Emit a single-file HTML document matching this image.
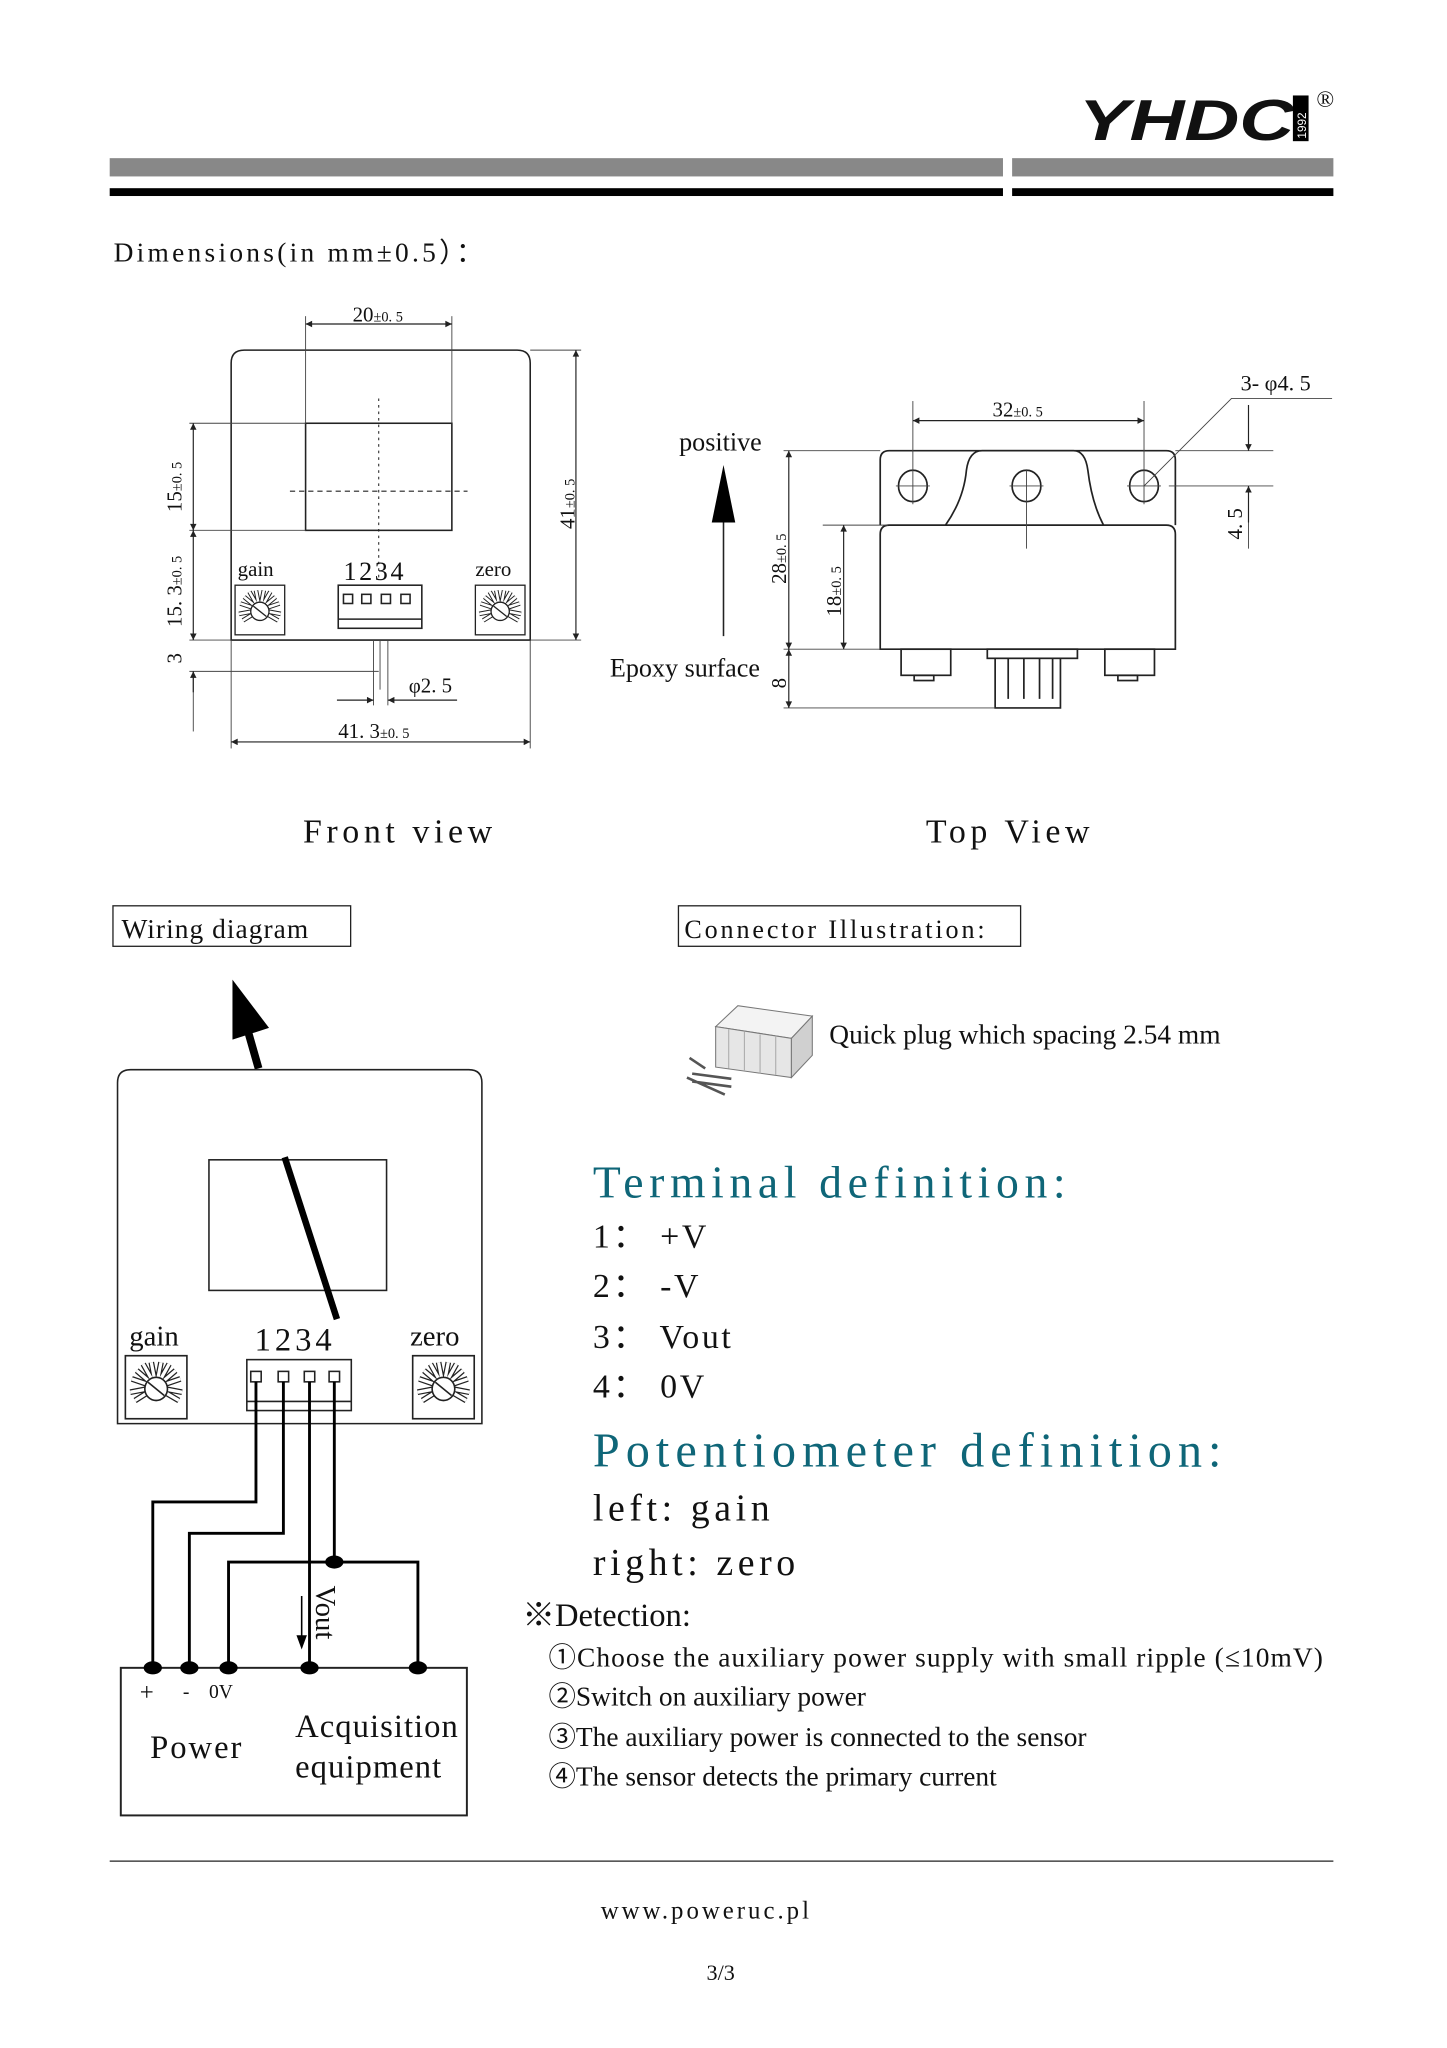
<!DOCTYPE html>
<html><head><meta charset="utf-8"><style>
html,body{margin:0;padding:0;background:#fff}
svg{display:block}
text{font-family:"Liberation Serif",serif;fill:#111}
</style></head><body>
<svg width="1447" height="2048" viewBox="0 0 1108 1568" xmlns="http://www.w3.org/2000/svg">
<defs>
<g id="pot">
<rect x="0" y="0" width="38" height="38" fill="#fff" stroke="#222" stroke-width="1"/>
<g stroke="#222" stroke-width="1" fill="#fff">
<path d="M19 19 L3 22 M19 19 L4 14 M19 19 L7 9 M19 19 L11 5 M19 19 L16 4 M19 19 L22 4 M19 19 L27 5 M19 19 L31 9 M19 19 L34 14 M19 19 L35 22 M19 19 L33 27 M19 19 L6 27" stroke-width="3.5" stroke="#222"/>
<path d="M19 19 L3 22 M19 19 L4 14 M19 19 L7 9 M19 19 L11 5 M19 19 L16 4 M19 19 L22 4 M19 19 L27 5 M19 19 L31 9 M19 19 L34 14 M19 19 L35 22 M19 19 L33 27 M19 19 L6 27" stroke-width="2" stroke="#fff"/>
<circle cx="19" cy="20" r="7"/>
<line x1="14" y1="16" x2="24" y2="24"/>
</g>
</g>
<marker id="ah" viewBox="0 0 10 10" refX="10" refY="5" markerWidth="9" markerHeight="5" orient="auto-start-reverse" markerUnits="userSpaceOnUse"><path d="M0 0 L10 5 L0 10 z" fill="#222"/></marker>
</defs>

<!-- header -->
<rect x="84" y="121" width="684" height="14" fill="#888"/>
<rect x="775" y="121" width="246" height="14" fill="#888"/>
<rect x="84" y="144" width="684" height="6" fill="#000"/>
<rect x="775" y="144" width="246" height="6" fill="#000"/>
<text x="826" y="107" font-weight="bold" font-style="italic" font-size="44" textLength="165" lengthAdjust="spacingAndGlyphs" style="font-family:'Liberation Sans',sans-serif">YHDC</text>
<rect x="990" y="73" width="12" height="35" fill="#000"/>
<text x="1000" y="106" font-size="9" style="fill:#fff;font-family:'Liberation Sans',sans-serif" transform="rotate(-90 1000 106)">1992</text>
<text x="1008" y="82" font-size="18">®</text>

<text x="87" y="200" font-size="21" letter-spacing="2.5">Dimensions(in mm±0.5）：</text>

<!-- FRONT VIEW -->
<g stroke="#222" fill="none" stroke-width="1.2">
<path d="M177 490 V278 Q177 268 187 268 H396 Q406 268 406 278 V490 Z"/>
<rect x="234" y="324" width="112" height="82"/>
<line x1="222" y1="376" x2="358" y2="376" stroke-dasharray="4 3" stroke-width="0.8"/>
<line x1="290" y1="305" x2="290" y2="445" stroke-dasharray="2 3" stroke-width="0.8"/>
<rect x="259" y="448" width="64" height="33"/>
<line x1="259" y1="474" x2="323" y2="474"/>
<rect x="263" y="455" width="7" height="7"/><rect x="277" y="455" width="7" height="7"/><rect x="292" y="455" width="7" height="7"/><rect x="307" y="455" width="7" height="7"/>
</g>
<g stroke="#444" stroke-width="0.7" fill="none">
<line x1="234" y1="242" x2="234" y2="324"/><line x1="346" y1="242" x2="346" y2="324"/>
<line x1="406" y1="268" x2="445" y2="268"/><line x1="406" y1="490" x2="445" y2="490"/>
<line x1="145" y1="324" x2="234" y2="324"/><line x1="145" y1="406" x2="234" y2="406"/>
<line x1="145" y1="490" x2="177" y2="490"/><line x1="145" y1="514" x2="290" y2="514"/>
<line x1="286" y1="490" x2="286" y2="540"/><line x1="297" y1="490" x2="297" y2="540"/>
<line x1="291" y1="490" x2="291" y2="528"/>
<line x1="177" y1="490" x2="177" y2="573"/><line x1="406" y1="490" x2="406" y2="573"/>
<line x1="148" y1="514" x2="148" y2="560"/>
</g>
<g stroke="#222" stroke-width="0.9">
<line x1="234" y1="248" x2="346" y2="248" marker-start="url(#ah)" marker-end="url(#ah)"/>
<line x1="441" y1="268" x2="441" y2="490" marker-start="url(#ah)" marker-end="url(#ah)"/>
<line x1="148" y1="324" x2="148" y2="406" marker-start="url(#ah)" marker-end="url(#ah)"/>
<line x1="148" y1="406" x2="148" y2="490" marker-start="url(#ah)" marker-end="url(#ah)"/>
<line x1="148" y1="530" x2="148" y2="514" marker-end="url(#ah)"/>
<line x1="258" y1="536" x2="286" y2="536" marker-end="url(#ah)"/>
<line x1="350" y1="536" x2="297" y2="536" marker-end="url(#ah)"/>
<line x1="177" y1="568" x2="406" y2="568" marker-start="url(#ah)" marker-end="url(#ah)"/>
</g>
<text x="270" y="246" font-size="16">20<tspan font-size="11">±0. 5</tspan></text>
<text x="259" y="565" font-size="16">41. 3<tspan font-size="11">±0. 5</tspan></text>
<text x="313" y="530" font-size="16">φ2. 5</text>
<text font-size="16" transform="translate(139 392) rotate(-90)">15<tspan font-size="11">±0. 5</tspan></text>
<text font-size="16" transform="translate(139 480) rotate(-90)">15. 3<tspan font-size="11">±0. 5</tspan></text>
<text font-size="16" transform="translate(139 508) rotate(-90)">3</text>
<text font-size="16" transform="translate(440 405) rotate(-90)">41<tspan font-size="11">±0. 5</tspan></text>
<text x="182" y="441" font-size="16">gain</text>
<text x="263" y="444" font-size="20" letter-spacing="2">1234</text>
<text x="364" y="441" font-size="16">zero</text>
<use href="#pot" x="180" y="448"/>
<use href="#pot" x="364" y="448"/>

<!-- TOP VIEW -->
<g stroke="#222" fill="none" stroke-width="1.3">
<path d="M674 402 V352 Q674 345 681 345 H893 Q900 345 900 352 V402"/>
<path d="M674 497 V409 Q674 402 681 402 H893 Q900 402 900 409 V497 Z"/>
<path d="M724 402 Q738 382 740 360 Q742 345 752 345 H822 Q831 345 833 360 Q836 385 845 402"/>
<ellipse cx="699" cy="372" rx="11" ry="12"/><ellipse cx="786" cy="372" rx="11" ry="12"/><ellipse cx="876" cy="372" rx="11" ry="12"/>
<rect x="690" y="497" width="38" height="20"/><rect x="700" y="517" width="15" height="4"/>
<rect x="846" y="497" width="38" height="20"/><rect x="856" y="517" width="15" height="4"/>
<rect x="756" y="497" width="69" height="7"/>
<path d="M762 504 V542 H812 V504 M772 504 V535 M784 504 V535 M796 504 V535 M806 504 V535"/>
</g>
<g stroke="#444" stroke-width="0.7" fill="none">
<line x1="699" y1="307" x2="699" y2="386"/><line x1="876" y1="307" x2="876" y2="386"/><line x1="786" y1="360" x2="786" y2="420"/>
<line x1="686" y1="372" x2="712" y2="372"/><line x1="773" y1="372" x2="799" y2="372"/><line x1="863" y1="372" x2="889" y2="372"/>
<line x1="600" y1="345" x2="674" y2="345"/><line x1="600" y1="497" x2="674" y2="497"/><line x1="600" y1="542" x2="762" y2="542"/>
<line x1="630" y1="402" x2="680" y2="402"/>
<line x1="900" y1="345" x2="975" y2="345"/><line x1="895" y1="372" x2="975" y2="372"/>
<line x1="956" y1="372" x2="956" y2="420"/>
<polyline points="876,372 943,305 1020,305"/>
</g>
<g stroke="#222" stroke-width="0.9">
<line x1="699" y1="322" x2="876" y2="322" marker-start="url(#ah)" marker-end="url(#ah)"/>
<line x1="604" y1="345" x2="604" y2="497" marker-start="url(#ah)" marker-end="url(#ah)"/>
<line x1="604" y1="497" x2="604" y2="542" marker-start="url(#ah)" marker-end="url(#ah)"/>
<line x1="646" y1="402" x2="646" y2="497" marker-start="url(#ah)" marker-end="url(#ah)"/>
<line x1="956" y1="310" x2="956" y2="345" marker-end="url(#ah)"/>
<line x1="956" y1="400" x2="956" y2="372" marker-end="url(#ah)"/>
<line x1="554" y1="487" x2="554" y2="395" stroke-width="1.2"/>
</g>
<polygon points="554,356 545,400 563,400" fill="#000"/>
<text x="760" y="319" font-size="16">32<tspan font-size="11">±0. 5</tspan></text>
<text x="950" y="299" font-size="17">3- φ4. 5</text>
<text font-size="16" transform="translate(951 413) rotate(-90)">4. 5</text>
<text font-size="16" transform="translate(602 447) rotate(-90)">28<tspan font-size="11">±0. 5</tspan></text>
<text font-size="16" transform="translate(644 472) rotate(-90)">18<tspan font-size="11">±0. 5</tspan></text>
<text font-size="16" transform="translate(602 527) rotate(-90)">8</text>
<text x="520" y="345" font-size="20">positive</text>
<text x="467" y="518" font-size="20">Epoxy surface</text>

<text x="232" y="645" font-size="26" letter-spacing="3.5">Front view</text>
<text x="709" y="645" font-size="26" letter-spacing="3.5">Top View</text>

<rect x="86.5" y="693.5" width="182" height="31" fill="none" stroke="#222"/>
<text x="93" y="718" font-size="21" letter-spacing="0.8">Wiring diagram</text>
<rect x="519.5" y="693.5" width="262" height="31" fill="none" stroke="#222"/>
<text x="524" y="718" font-size="20" letter-spacing="2.2">Connector Illustration:</text>

<!-- connector picture -->
<g stroke="#777" stroke-width="0.8">
<polygon points="548,786 565,770 622,778 606,795" fill="#f3f3f3"/>
<polygon points="548,786 606,795 606,825 548,817" fill="#e6e6e6"/>
<polygon points="606,795 622,778 622,808 606,825" fill="#d0d0d0"/>
<path d="M558 788 V818 M570 790 V820 M582 792 V822 M594 793 V823" fill="none" stroke="#aaa"/>
<path d="M530 822 L560 826 M530 828 L560 832 M528 810 L540 818 M526 825 L555 838" stroke="#555" stroke-width="2"/>
</g>
<text x="635" y="799" font-size="21" letter-spacing="0">Quick plug which spacing 2.54 mm</text>

<text x="454" y="917" font-size="35" letter-spacing="4.3" style="fill:#0f6678">Terminal definition:</text>
<text x="454" y="955" font-size="26" letter-spacing="2">1： +V</text>
<text x="454" y="993" font-size="26" letter-spacing="2">2： -V</text>
<text x="454" y="1032" font-size="26" letter-spacing="2">3： Vout</text>
<text x="454" y="1070" font-size="26" letter-spacing="2">4： 0V</text>
<text x="454" y="1123" font-size="37" letter-spacing="4.6" style="fill:#0f6678">Potentiometer definition:</text>
<text x="454" y="1164" font-size="29" letter-spacing="3.5">left:  gain</text>
<text x="454" y="1206" font-size="29" letter-spacing="3.5">right:  zero</text>
<text x="400" y="1245" font-size="25" style="font-family:'Liberation Serif','Noto Serif CJK SC',serif">※Detection:</text>
<text x="420" y="1276" font-size="21" textLength="593" lengthAdjust="spacing" style="font-family:'Liberation Serif','Noto Sans CJK SC',serif">①Choose the auxiliary power supply with small ripple (≤10mV)</text>
<text x="420" y="1306" font-size="21" style="font-family:'Liberation Serif','Noto Sans CJK SC',serif">②Switch on auxiliary power</text>
<text x="420" y="1337" font-size="21" style="font-family:'Liberation Serif','Noto Sans CJK SC',serif">③The auxiliary power is connected to the sensor</text>
<text x="420" y="1367" font-size="21" style="font-family:'Liberation Serif','Noto Sans CJK SC',serif">④The sensor detects the primary current</text>

<!-- WIRING -->
<polygon points="178,750 178,796 206,787" fill="#000"/>
<line x1="198" y1="818" x2="190" y2="790" stroke="#000" stroke-width="6"/>
<g stroke="#222" fill="none" stroke-width="1.2">
<path d="M90 1090 V829 Q90 819 100 819 H359 Q369 819 369 829 V1090 Z"/>
<rect x="160" y="888" width="136" height="100"/>
<rect x="189" y="1041" width="80" height="39"/>
<line x1="189" y1="1073" x2="269" y2="1073"/>
<rect x="92.5" y="1277" width="265" height="113" stroke-width="1.5"/>
</g>
<line x1="218" y1="886" x2="258" y2="1010" stroke="#000" stroke-width="5"/>
<g stroke="#222" fill="#fff" stroke-width="1.2">
<rect x="192" y="1050" width="8" height="8"/><rect x="213" y="1050" width="8" height="8"/><rect x="233" y="1050" width="8" height="8"/><rect x="252" y="1050" width="8" height="8"/>
</g>
<g stroke="#000" fill="none" stroke-width="2.2">
<path d="M196 1058 V1150 H117 V1277"/>
<path d="M217 1058 V1174 H145 V1277"/>
<path d="M237 1058 V1277"/>
<path d="M256 1058 V1196"/>
<path d="M175 1277 V1196 H320 V1277"/>
</g>
<g fill="#000">
<ellipse cx="117" cy="1277" rx="7" ry="5"/><ellipse cx="145" cy="1277" rx="7" ry="5"/><ellipse cx="175" cy="1277" rx="7" ry="5"/><ellipse cx="237" cy="1277" rx="7" ry="5"/><ellipse cx="320" cy="1277" rx="7" ry="5"/><ellipse cx="256" cy="1196" rx="7" ry="5"/>
</g>
<line x1="231" y1="1222" x2="231" y2="1258" stroke="#000" stroke-width="1.2"/>
<polygon points="231,1263 227,1252 235,1252" fill="#000"/>
<text font-size="22" transform="translate(242 1214) rotate(90)">Vout</text>
<text x="99" y="1030" font-size="22">gain</text>
<text x="195" y="1034" font-size="25" letter-spacing="3">1234</text>
<text x="314" y="1030" font-size="22">zero</text>
<use href="#pot" transform="translate(96 1038) scale(1.24 1.27)"/>
<use href="#pot" transform="translate(316 1038) scale(1.24 1.27)"/>
<text x="107" y="1302" font-size="19">+</text>
<text x="140" y="1300" font-size="15">-</text>
<text x="160" y="1300" font-size="15">0V</text>
<text x="115" y="1346" font-size="25" letter-spacing="1.5">Power</text>
<text x="226" y="1330" font-size="25" letter-spacing="0.8">Acquisition</text>
<text x="226" y="1361" font-size="25" letter-spacing="0.8">equipment</text>

<line x1="84" y1="1425" x2="1021" y2="1425" stroke="#222" stroke-width="1"/>
<text x="460" y="1469" font-size="19" letter-spacing="2.3">www.poweruc.pl</text>
<text x="541" y="1516" font-size="17">3/3</text>
</svg>
</body></html>
